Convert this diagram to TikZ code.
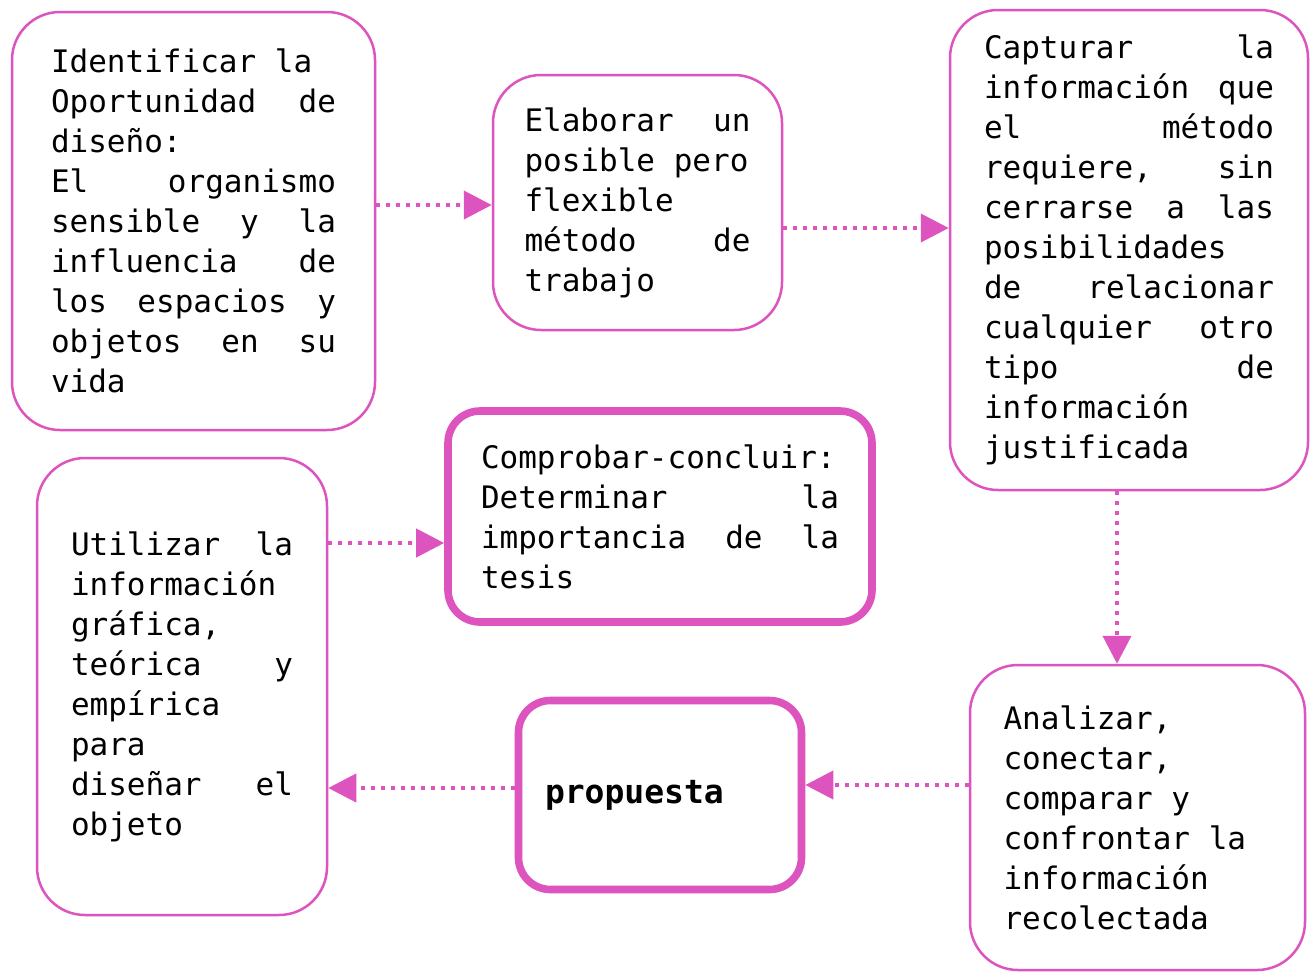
\documentclass[tikz,border=0pt]{standalone}
\usepackage{fontspec}
\setmonofont{DejaVu Sans Mono}
\usetikzlibrary{arrows.meta}
\definecolor{rosa}{RGB}{222,84,190}
\tikzset{
	caja/.style={draw=rosa, line width=1.25pt, rounded corners=24pt, align=justify, inner sep=0pt,
		font=\ttfamily\fontsize{15.5}{20}\selectfont},
	cajagruesa/.style={caja, line width=3.8pt, rounded corners=16pt},
	flecha/.style={draw=rosa, line width=2pt, dash pattern=on 2pt off 3pt,
		-{Triangle[length=14pt,width=14pt,fill=rosa]}}
}
\begin{document}
\begin{tikzpicture}[x=0.5pt,y=-0.5pt]
	\fill[white] (0,0) rectangle (1313,976);
	\useasboundingbox (0,0) rectangle (1313,976);
	% cajas
	\node (Id) at (193.5,221) [caja, minimum width=181.5pt, minimum height=209pt, text width=142.5pt]
		{Identificar la\\ Oportunidad\hfill de\\ diseño:\\ El\hfill organismo\\ sensible\hfill y\hfill la\\
		 influencia\hfill de\\ los\hfill espacios\hfill y\\ objetos\hfill en\hfill su\\ vida};
	\node (El) at (637.5,202.5) [caja, minimum width=144.5pt, minimum height=127.5pt, text width=113pt]
		{Elaborar\hfill un\\ posible pero\\ flexible\\ método\hfill de\\ trabajo};
	\node (Ca) at (1129,250) [caja, minimum width=179pt, minimum height=240pt, text width=145pt]
		{Capturar\hfill la\\ información\hfill que\\ el\hfill método\\ requiere,\hfill sin\\
		 cerrarse\hfill a\hfill las\\ posibilidades\\ de\hfill relacionar\\ cualquier\hfill otro\\
		 tipo\hfill de\\ información\\ justificada};
	\node (An) at (1137.5,817.5) [caja, minimum width=167.5pt, minimum height=152.5pt, text width=134pt]
		{Analizar,\\ conectar,\\ comparar y\\ confrontar la\\ información\\ recolectada};
	\node (Pr) at (660,795) [cajagruesa, minimum width=141.5pt, minimum height=94.5pt, text width=115pt,
		font=\ttfamily\bfseries\fontsize{16.5}{20}\selectfont] {propuesta};
	\node (Ut) at (182,686.5) [caja, minimum width=145pt, minimum height=228.5pt, text width=111pt]
		{Utilizar\hfill la\\ información\\ gráfica,\\ teórica\hfill y\\ empírica\\ para\\
		 diseñar\hfill el\\ objeto};
	\node (Cp) at (660,516.5) [cajagruesa, minimum width=212pt, minimum height=105.5pt, text width=179pt]
		{Comprobar-concluir:\\ Determinar\hfill la\\ importancia\hfill de\hfill la\\ tesis};
	% flechas
	\draw[flecha] (Id.east |- 0,205) -- (El.west |- 0,205);
	\draw[flecha] (El.east |- 0,228) -- (Ca.west |- 0,228);
	\draw[flecha] (Ca.south -| 1117,0) -- (An.north -| 1117,0);
	\draw[flecha] (An.west |- 0,785) -- (Pr.east |- 0,785);
	\draw[flecha] (Pr.west |- 0,788) -- (Ut.east |- 0,788);
	\draw[flecha] (Ut.east |- 0,543) -- (Cp.west |- 0,543);
\end{tikzpicture}
\end{document}
